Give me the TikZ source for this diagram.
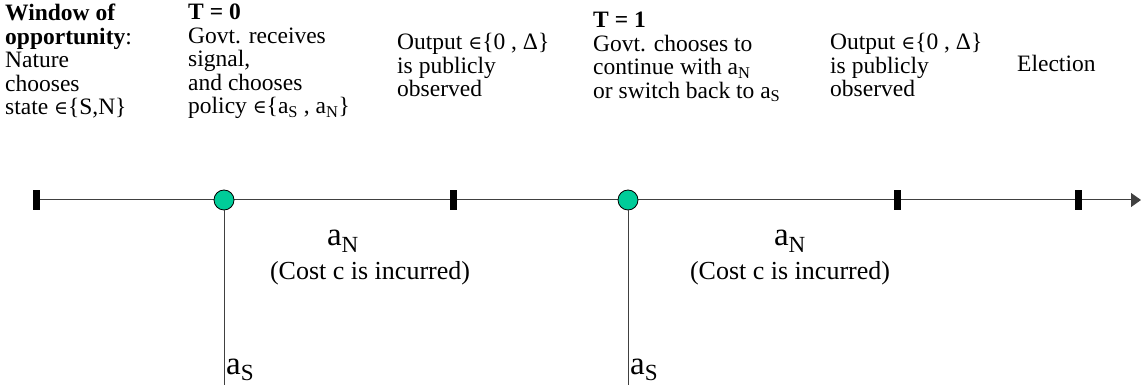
\documentclass[tikz,border=0pt]{standalone}
\usepackage{fontspec}
\setmainfont{Liberation Serif}
\newfontfamily\symfont{DejaVu Serif}
\usetikzlibrary{arrows.meta}
\newcommand{\elem}{{\symfont\scalebox{0.8}{∈}}}
\newcommand{\sub}[1]{\textsubscript{#1}}
\definecolor{nodegreen}{RGB}{0,204,153}
\tikzset{
  toptext/.style={anchor=north west, align=left, inner sep=0pt, font=\fontsize{23.5}{23.5}\selectfont},
  axis/.style={draw=black!75, line width=1pt},
  tick/.style={fill=black, minimum width=7pt, minimum height=20pt, inner sep=0pt},
  decision/.style={circle, draw=black, line width=0.8pt, fill=nodegreen, minimum size=20pt, inner sep=0pt},
  branch/.style={draw=black!75, line width=1pt},
  actlabel/.style={inner sep=0pt, font=\fontsize{33}{33}\selectfont},
  costlabel/.style={inner sep=0pt, font=\fontsize{26}{27}\selectfont},
}
\begin{document}
\begin{tikzpicture}[x=1pt,y=-1pt]
\useasboundingbox (0,0) rectangle (1141,387);
% top texts
\node[toptext] (w) at (5,4) {\textbf{Window of}\\\textbf{opportunity}:\\Nature\\chooses\\state \elem\{S,N\}};
\node[toptext] (t0) at (188,4) {\textbf{T = 0}\\Govt. receives\\signal,\\and chooses\\policy \elem\{a\sub{S} , a\sub{N}\}};
\node[toptext] (o1) at (397,33) {Output \elem\{0 , Δ\}\\is publicly\\observed};
\node[toptext] (t1) at (593,12) {\textbf{T = 1}\\Govt. chooses to\\continue with a\sub{N}\\or switch back to a\sub{S}};
\node[toptext] (o2) at (830,33) {Output \elem\{0 , Δ\}\\is publicly\\observed};
\node[toptext] (el) at (1017,55) {Election};
% timeline
\coordinate (start) at (36,200);
\coordinate (end) at (1141,200);
\draw[axis, -{Triangle[length=10pt,width=14pt]}] (start) -- (end);
\node[tick] (k1) at (36,200) {};
\node[tick] (k2) at (453,200) {};
\node[tick] (k3) at (897,200) {};
\node[tick] (k4) at (1078,200) {};
% decision nodes
\coordinate (s1) at (224,385);
\coordinate (s2) at (628,385);
\node[decision] (d1) at (224,200) {};
\node[decision] (d2) at (628,200) {};
\draw[branch] (d1.south) -- (s1);
\draw[branch] (d2.south) -- (s2);
% labels
\node[actlabel] (an1) at (343,241) {a\sub{N}};
\node[actlabel] (an2) at (790,241) {a\sub{N}};
\node[costlabel] (c1) at (370,273) {(Cost c is incurred)};
\node[costlabel] (c2) at (790,273) {(Cost c is incurred)};
\node[actlabel, anchor=base west] (as1) at (226,374) {a\sub{S}};
\node[actlabel, anchor=base west] (as2) at (630,374) {a\sub{S}};
\end{tikzpicture}
\end{document}
